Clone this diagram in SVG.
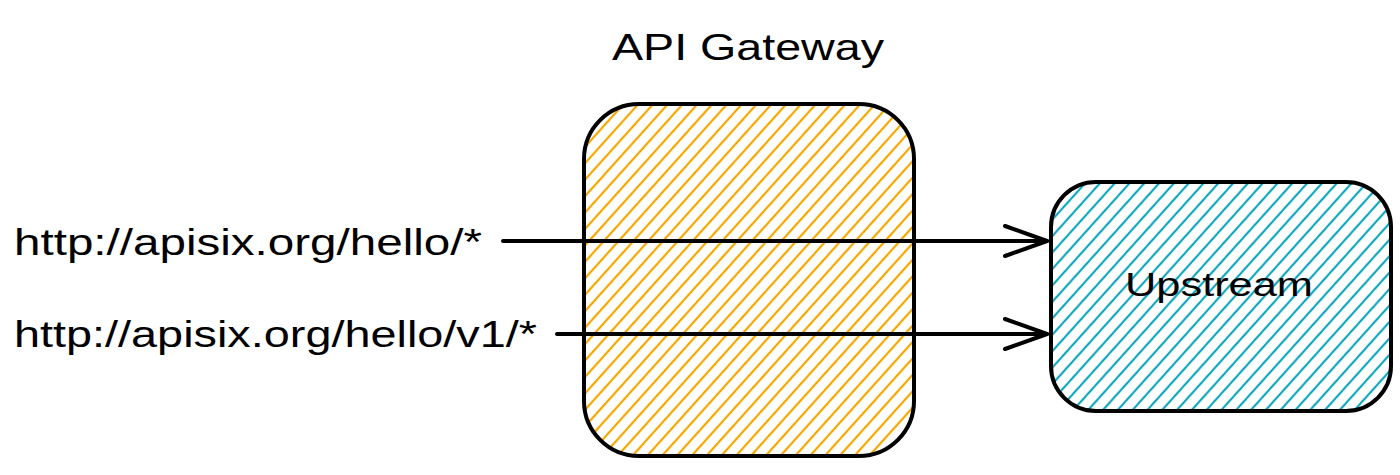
<svg xmlns="http://www.w3.org/2000/svg" width="1400" height="475" viewBox="0 0 1400 475">
<defs>
<pattern id="hOrange" width="11" height="11" patternUnits="userSpaceOnUse" patternTransform="rotate(-48)">
<line x1="0" y1="5" x2="11" y2="5" stroke="#f5a700" stroke-width="2.2"/>
</pattern>
<pattern id="hTeal" width="11" height="11" patternUnits="userSpaceOnUse" patternTransform="rotate(-48)">
<line x1="0" y1="5" x2="11" y2="5" stroke="#12a7bd" stroke-width="2.2"/>
</pattern>
<marker id="arrow" viewBox="0 0 50 36" refX="46" refY="18" markerWidth="50" markerHeight="36" markerUnits="userSpaceOnUse" orient="auto">
<path d="M4 3 L46 18 L4 33" fill="none" stroke="#000" stroke-width="4" stroke-linecap="round" stroke-linejoin="round"/>
</marker>
</defs>
<style>
.box{stroke:#000;stroke-width:4}
.lbl{font-family:"Liberation Sans",Arial,sans-serif;fill:#000}
.conn{stroke:#000;stroke-width:4;fill:none;stroke-linecap:round}
</style>
<rect width="1400" height="475" fill="#fff"/>
<g id="gateway">
<rect class="box" x="584" y="104" width="330" height="352" rx="55" fill="url(#hOrange)"/>
<text class="lbl" x="748" y="60" font-size="36" text-anchor="middle" textLength="272" lengthAdjust="spacingAndGlyphs">API Gateway</text>
</g>
<g id="upstream">
<rect class="box" x="1051" y="182" width="340" height="229" rx="45" fill="url(#hTeal)"/>
<text class="lbl" x="1219" y="296" font-size="34" text-anchor="middle" textLength="188" lengthAdjust="spacingAndGlyphs">Upstream</text>
</g>
<g id="route1">
<text class="lbl" x="14" y="255" font-size="36" textLength="468" lengthAdjust="spacingAndGlyphs">http://apisix.org/hello/*</text>
</g>
<g id="route2">
<text class="lbl" x="14" y="347" font-size="36" textLength="523" lengthAdjust="spacingAndGlyphs">http://apisix.org/hello/v1/*</text>
</g>
<g id="connectors">
<line class="conn" x1="503" y1="241" x2="1047" y2="241" marker-end="url(#arrow)"/>
<line class="conn" x1="557" y1="334" x2="1047" y2="334" marker-end="url(#arrow)"/>
</g>
</svg>
